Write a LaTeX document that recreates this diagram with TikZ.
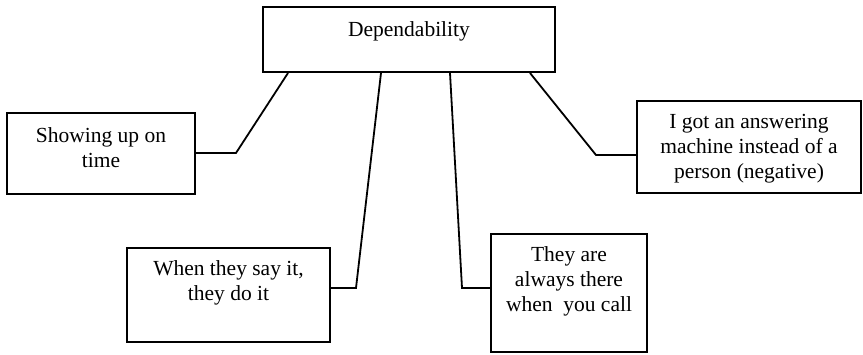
\documentclass[tikz,border=0pt]{standalone}
\usepackage{fontspec}
\setmainfont{Liberation Serif}
\usetikzlibrary{calc}

\begin{document}
\begin{tikzpicture}[x=1pt, y=-1pt,
    box/.style={draw, line width=2pt, inner sep=0pt},
    txt/.style={font=\fontsize{21.5}{25}\selectfont, align=center, inner sep=0pt, anchor=north},
    link/.style={draw, line width=1.8pt}
]

    \useasboundingbox (0,0) rectangle (863,355);

    % boxes
    \node[box, minimum width=292, minimum height=65]  (dep)  at (409,39.5)  {};
    \node[box, minimum width=188, minimum height=81]  (time) at (101,153.5) {};
    \node[box, minimum width=203, minimum height=94]  (say)  at (228.5,295) {};
    \node[box, minimum width=156, minimum height=118] (call) at (569,293)   {};
    \node[box, minimum width=224, minimum height=92]  (mach) at (749,147)   {};

    % texts, set near the top of each box
    \node[txt] (deptxt)  at ([yshift=-15.5]dep.north)  {Dependability};
    \node[txt] (timetxt) at ([yshift=-15.5]time.north) {Showing up on\\time};
    \node[txt] (saytxt)  at ([yshift=-13.5]say.north)  {When they say it,\\they do it};
    \node[txt] (calltxt) at ([yshift=-13.5]call.north) {They are\\always there\\when~ you call};
    \node[txt] (machtxt) at ([yshift=-14.5]mach.north) {I got an answering\\machine instead of a\\person (negative)};

    % bends of the connectors
    \coordinate (timek) at (236,153);
    \coordinate (sayk)  at (356,288);
    \coordinate (callk) at (462,288);
    \coordinate (machk) at (596,155);

    % connectors
    \draw[link] ([xshift=-121]dep.south) -- (timek) -- (timek -| time.east);
    \draw[link] ([xshift=-28]dep.south)  -- (sayk)  -- (sayk -| say.east);
    \draw[link] ([xshift=41]dep.south)   -- (callk) -- (callk -| call.west);
    \draw[link] ([xshift=121]dep.south)  -- (machk) -- (machk -| mach.west);

\end{tikzpicture}
\end{document}
